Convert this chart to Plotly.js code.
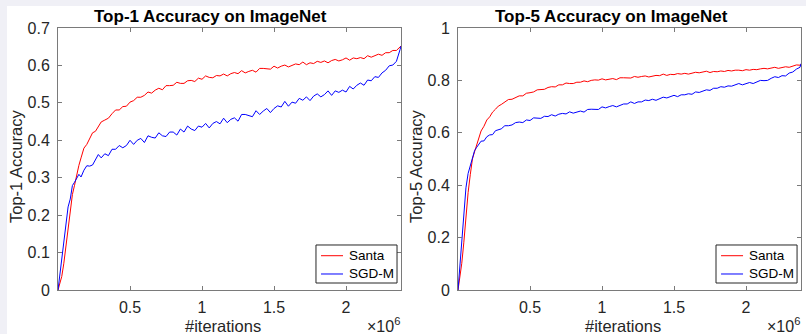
<!DOCTYPE html>
<html>
<head>
<meta charset="utf-8">
<script src="https://cdn.plot.ly/plotly-3.0.1.min.js"></script>
<style>
  html, body { margin: 0; padding: 0; background: #f0f0f6; width: 806px; height: 334px; overflow: hidden; }
  #chart { position: absolute; left: 7px; top: 6px; width: 799px; height: 328px; background: #ffffff; }
</style>
</head>
<body>
<div id="chart"></div>
<script>
// iterations, in units of 10^6
const iterations = [0,0.013,0.026,0.04,0.055,0.07,0.085,0.1,0.115,0.13,0.145,0.16,0.18,0.2,0.22,0.24,0.26,0.28,0.3,
0.325,0.35,0.375,0.4,0.425,0.45,0.475,0.5,0.525,0.55,0.575,0.6,0.625,0.65,0.675,0.7,0.725,0.75,0.775,0.8,
0.825,0.85,0.875,0.9,0.925,0.95,0.975,1.0,1.025,1.05,1.075,1.1,1.125,1.15,1.175,1.2,1.225,1.25,1.275,1.3,
1.325,1.35,1.375,1.4,1.425,1.45,1.475,1.5,1.525,1.55,1.575,1.6,1.625,1.65,1.675,1.7,1.725,1.75,1.775,1.8,
1.825,1.85,1.875,1.9,1.925,1.95,1.975,2.0,2.025,2.05,2.075,2.1,2.125,2.15,2.175,2.2,2.225,2.25,2.275,2.3,
2.325,2.35,2.375,2.382];

const top1Santa = [0,0.018,0.036,0.07,0.115,0.165,0.215,0.255,0.28,
0.308,0.333,0.353,0.379,0.389,0.405,0.420,0.424,0.438,0.449,
0.454,0.459,0.471,0.481,0.481,0.490,0.491,0.502,0.506,0.515,0.515,0.520,0.529,0.526,0.534,0.539,0.535,0.546,0.546,0.547,
0.555,0.552,0.552,0.559,0.560,0.557,0.566,0.563,0.572,0.568,0.567,0.573,0.572,0.577,0.572,0.578,0.581,0.578,0.586,0.580,
0.584,0.587,0.582,0.592,0.592,0.590,0.590,0.598,0.593,0.598,0.601,0.596,0.601,0.604,0.602,0.609,0.602,0.607,0.605,0.611,
0.608,0.612,0.607,0.613,0.616,0.612,0.615,0.620,0.614,0.620,0.618,0.621,0.618,0.626,0.622,0.627,0.630,0.627,0.634,0.634,
0.640,0.640,0.648,0.652];

const top1SGDM = [0,0.04,0.08,0.127,0.168,0.222,0.243,0.279,0.288,
0.300,0.309,0.302,0.320,0.332,0.331,0.334,0.350,0.362,0.353,
0.364,0.359,0.376,0.376,0.386,0.380,0.386,0.400,0.389,0.400,0.405,0.394,0.412,0.408,0.406,0.420,0.412,0.410,0.422,0.422,
0.414,0.430,0.422,0.438,0.430,0.426,0.438,0.435,0.445,0.433,0.445,0.450,0.444,0.459,0.447,0.456,0.460,0.451,0.469,0.469,
0.465,0.463,0.479,0.469,0.478,0.485,0.474,0.485,0.492,0.489,0.504,0.491,0.502,0.499,0.512,0.507,0.516,0.506,0.518,0.524,
0.516,0.522,0.532,0.520,0.532,0.528,0.534,0.529,0.544,0.537,0.547,0.553,0.547,0.561,0.559,0.570,0.568,0.580,0.587,0.599,
0.601,0.611,0.642,0.652];

const top5Santa = [0,0.05,0.102,0.18,0.285,0.372,0.44,0.5,0.528,
0.554,0.581,0.607,0.625,0.649,0.661,0.679,0.690,0.702,0.708,
0.716,0.727,0.728,0.736,0.741,0.741,0.751,0.753,0.756,0.764,0.764,0.766,0.773,0.776,0.775,0.783,0.783,0.790,0.788,0.788,
0.793,0.793,0.798,0.795,0.800,0.802,0.801,0.806,0.802,0.805,0.807,0.803,0.810,0.810,0.809,0.809,0.815,0.812,0.815,0.817,
0.813,0.817,0.819,0.818,0.824,0.819,0.823,0.822,0.826,0.824,0.827,0.824,0.829,0.831,0.829,0.831,0.835,0.830,0.834,0.833,
0.836,0.834,0.838,0.836,0.839,0.839,0.837,0.841,0.839,0.842,0.841,0.844,0.846,0.844,0.847,0.850,0.846,0.850,0.852,0.850,
0.856,0.859,0.858,0.861];

const top5SGDM = [0,0.1,0.204,0.31,0.39,0.445,0.475,0.51,0.532,
0.545,0.555,0.568,0.569,0.585,0.592,0.593,0.608,0.611,0.615,
0.627,0.627,0.630,0.639,0.641,0.639,0.649,0.647,0.657,0.655,0.655,0.663,0.662,0.669,0.664,0.671,0.674,0.672,0.680,0.675,
0.680,0.683,0.679,0.689,0.690,0.689,0.689,0.699,0.695,0.700,0.704,0.699,0.706,0.710,0.710,0.718,0.712,0.718,0.718,0.725,
0.723,0.728,0.724,0.731,0.736,0.733,0.737,0.743,0.738,0.745,0.745,0.749,0.747,0.756,0.754,0.760,0.764,0.762,0.770,0.770,
0.776,0.774,0.779,0.778,0.783,0.788,0.783,0.788,0.792,0.788,0.795,0.800,0.799,0.800,0.808,0.814,0.811,0.818,0.817,0.828,
0.832,0.843,0.850,0.864];

const seriesNames = ['Santa', 'SGD-M'];
const seriesColors = ['#ff0000', '#0000ff'];
const xTickVals = [0.5, 1, 1.5, 2];
const xTickText = ['0.5', '1', '1.5', '2'];
const y1TickVals = [0, 0.1, 0.2, 0.3, 0.4, 0.5, 0.6, 0.7];
const y1TickText = ['0', '0.1', '0.2', '0.3', '0.4', '0.5', '0.6', '0.7'];
const y2TickVals = [0, 0.2, 0.4, 0.6, 0.8, 1];
const y2TickText = ['0', '0.2', '0.4', '0.6', '0.8', '1'];

const FONT = 'Liberation Sans, Arial, Helvetica, sans-serif';
const INK = '#262626';
const AX = '#7a7a7a';

function tr(y, i, xa, ya) {
  return { x: iterations, y: y, type: 'scatter', mode: 'lines', name: seriesNames[i],
    xaxis: xa, yaxis: ya, line: { color: seriesColors[i], width: 1 }, hoverinfo: 'skip', showlegend: false };
}

const data = [
  tr(top1Santa, 0, 'x', 'y'),
  tr(top1SGDM, 1, 'x', 'y'),
  tr(top5Santa, 0, 'x2', 'y2'),
  tr(top5SGDM, 1, 'x2', 'y2')
];

function xax(domain, anchor) {
  return { domain: domain, anchor: anchor, range: [0, 2.382], tickvals: xTickVals, ticktext: xTickText,
    ticks: 'inside', ticklen: 4, tickcolor: AX, showline: true, linecolor: AX, linewidth: 1, mirror: 'ticks',
    showgrid: false, zeroline: false, tickfont: { family: FONT, size: 16, color: INK }, ticklabelstandoff: 3 };
}
function yax(anchor, range, vals, text) {
  return { anchor: anchor, domain: [0, 1], range: range, tickvals: vals, ticktext: text,
    ticks: 'inside', ticklen: 4, tickcolor: AX, showline: true, linecolor: AX, linewidth: 1, mirror: 'ticks',
    showgrid: false, zeroline: false, tickfont: { family: FONT, size: 16, color: INK }, ticklabelstandoff: 4 };
}
function ann(text, x, y, size, extra) {
  return Object.assign({ text: text, x: x, y: y, xref: 'paper', yref: 'paper', showarrow: false,
    xanchor: 'center', yanchor: 'middle', font: { family: FONT, size: size, color: INK } }, extra || {});
}

// hand-drawn legends (box, line samples, labels) for each panel, offset by panel position
const legendOffsets = [0, 0.5384];
const shapes = [];
const legendAnns = [];
legendOffsets.forEach(function (dx) {
  shapes.push({ type: 'rect', xref: 'paper', yref: 'paper', x0: 0.3472 + dx, x1: 0.4563 + dx, y0: 0.0267, y1: 0.1718,
    line: { color: INK, width: 1 }, fillcolor: '#ffffff', layer: 'above' });
  [0.1309, 0.0611].forEach(function (ly, i) {
    shapes.push({ type: 'line', xref: 'paper', yref: 'paper', x0: 0.354 + dx, x1: 0.3836 + dx, y0: ly, y1: ly,
      line: { color: seriesColors[i], width: 1 }, layer: 'above' });
    legendAnns.push(ann(seriesNames[i], 0.389 + dx, ly, 13.5, { xanchor: 'left', font: { family: FONT, size: 13.5, color: '#000000' } }));
  });
});

const layout = {
  width: 799, height: 328,
  margin: { l: 51, r: 5, t: 22, b: 44 },
  paper_bgcolor: '#ffffff', plot_bgcolor: '#ffffff',
  showlegend: false,
  xaxis: xax([0, 0.4617], 'y'),
  yaxis: yax('x', [0, 0.7], y1TickVals, y1TickText),
  xaxis2: xax([0.5384, 1], 'y2'),
  yaxis2: yax('x2', [0, 1], y2TickVals, y2TickText),
  shapes: shapes,
  annotations: [
    ann('<b>Top-1 Accuracy on ImageNet</b>', 0.2059, 1.0458, 17, { font: { family: FONT, size: 17, color: '#000000' } }),
    ann('<b>Top-5 Accuracy on ImageNet</b>', 0.7443, 1.0458, 17, { font: { family: FONT, size: 17, color: '#000000' } }),
    ann('#iterations', 0.2221, -0.1374, 16.5),
    ann('#iterations', 0.7604, -0.1374, 16.5),
    ann('Top-1 Accuracy', -0.0565, 0.4733, 16.5, { textangle: -90 }),
    ann('Top-5 Accuracy', 0.4818, 0.4733, 16.5, { textangle: -90 }),
    ann('×10<sup>6</sup>', 0.4132, -0.135, 16, { xanchor: 'left' }),
    ann('×10<sup>6</sup>', 0.9516, -0.135, 16, { xanchor: 'left' })
  ].concat(legendAnns)
};

Plotly.newPlot('chart', data, layout, { staticPlot: true, displayModeBar: false });
</script>
</body>
</html>
